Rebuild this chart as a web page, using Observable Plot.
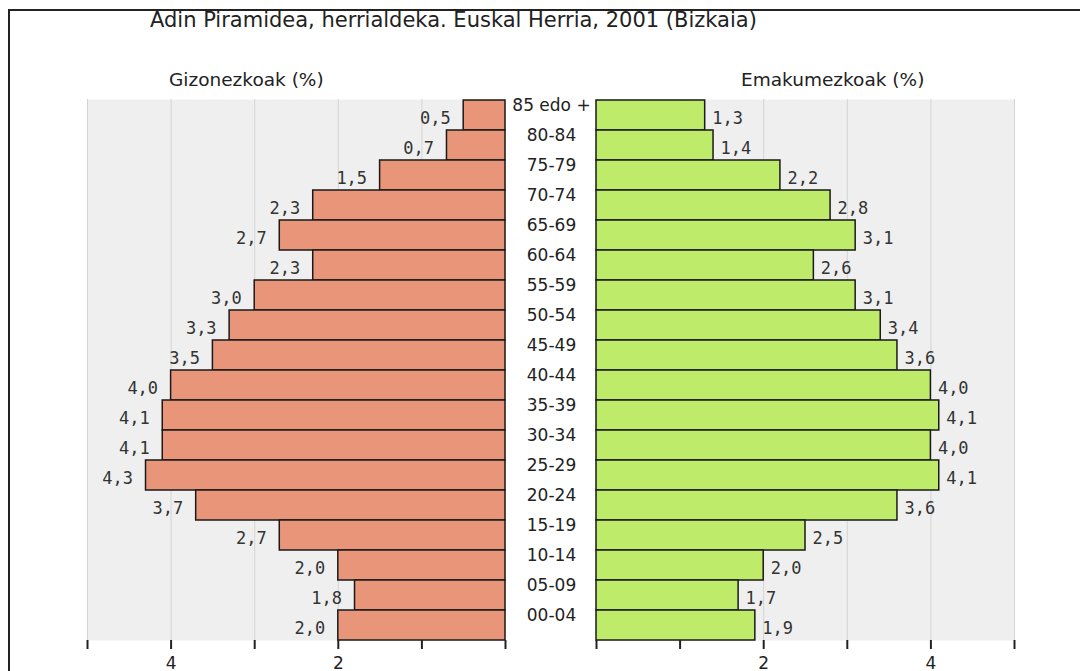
<!DOCTYPE html>
<html><head><meta charset="utf-8">
<script src="https://cdn.jsdelivr.net/npm/d3@7"></script>
<script src="https://cdn.jsdelivr.net/npm/@observablehq/plot@0.6"></script>
<style>
body{margin:0;background:#fff;width:1080px;height:671px;overflow:hidden;position:relative;font-family:"DejaVu Sans",sans-serif;color:#222}
.abs{position:absolute;white-space:nowrap}
#frame{left:8px;top:9px;width:1080px;height:700px;border-top:2px solid #222;border-left:2px solid #222;box-sizing:border-box}
#title{left:150px;top:8px;font-size:21px;line-height:24px}
.sub{font-size:18.5px;top:69px;line-height:22px}
#left,#right{top:90px}
svg{overflow:visible;background:transparent!important}
</style></head>
<body>
<div id="frame" class="abs"></div>
<div id="title" class="abs">Adin Piramidea, herrialdeka. Euskal Herria, 2001 (Bizkaia)</div>
<div id="subL" class="abs sub" style="left:169px">Gizonezkoak (%)</div>
<div id="subR" class="abs sub" style="left:741px">Emakumezkoak (%)</div>
<div id="left" class="abs" style="left:0"></div>
<div id="right" class="abs" style="left:545px"></div>
<script>
const ages = ["85 edo +","80-84","75-79","70-74","65-69","60-64","55-59","50-54","45-49","40-44","35-39","30-34","25-29","20-24","15-19","10-14","05-09","00-04"];
const men = [0.5,0.7,1.5,2.3,2.7,2.3,3.0,3.3,3.5,4.0,4.1,4.1,4.3,3.7,2.7,2.0,1.8,2.0];
const women = [1.3,1.4,2.2,2.8,3.1,2.6,3.1,3.4,3.6,4.0,4.1,4.0,4.1,3.6,2.5,2.0,1.7,1.9];
const xTicks = [0,1,2,3,4,5];
const gridTicks = [1,2,3,4,5];
const labeledTicks = [2,4];

const fmt = v => d3.format(".1f")(v).replace(".", ",");
const dataM = ages.map((a,i)=>({age:a, v:men[i]}));
const dataF = ages.map((a,i)=>({age:a, v:women[i]}));

function panel({data, reverse, width, marginLeft, marginRight, fill, labelAnchor, labelDx, ageLabels}) {
  const marks = [
    Plot.frame({fill:"#efefef", stroke:null}),
    Plot.gridX(gridTicks, {stroke:"#d4d4d4", strokeOpacity:1, strokeWidth:1}),
    Plot.barX(data, {x:"v", y:"age", fill, stroke:"#1a1a1a", strokeWidth:1.5, inset:0}),
    Plot.text(data, {x:"v", y:"age", text:d=>fmt(d.v), textAnchor:labelAnchor, dx:labelDx, dy:3,
      fontFamily:"DejaVu Sans Mono", fontSize:17, fill:"#333"}),
    Plot.axisX({ticks:xTicks, tickFormat:d=>labeledTicks.includes(d)?String(d):"", tickSize:9, tickPadding:7,
      label:null, fontSize:17, fontFamily:"DejaVu Sans", stroke:"#222", strokeWidth:2, color:"#222"})
  ];
  if (ageLabels) marks.push(Plot.text(data, {x:()=>0, y:"age", text:"age", textAnchor:"middle", dx:-45, dy:-10,
      fontFamily:"DejaVu Sans", fontSize:17, fill:"#222"}));
  return Plot.plot({
    width, height:581, marginLeft, marginRight, marginTop:9, marginBottom:31,
    style:{background:"transparent", overflow:"visible"},
    x:{domain:[0,5], reverse, line:true, label:null},
    y:{domain:ages, axis:null, padding:0},
    marks
  });
}
const L = panel({data:dataM, reverse:true, width:545, marginLeft:87, marginRight:40, fill:"#E8957A", labelAnchor:"end", labelDx:-13, ageLabels:false});
const R = panel({data:dataF, reverse:false, width:535, marginLeft:51, marginRight:66, fill:"#BFEB6A", labelAnchor:"start", labelDx:7, ageLabels:true});
document.getElementById("left").append(L);
document.getElementById("right").append(R);
</script>
</body></html>
